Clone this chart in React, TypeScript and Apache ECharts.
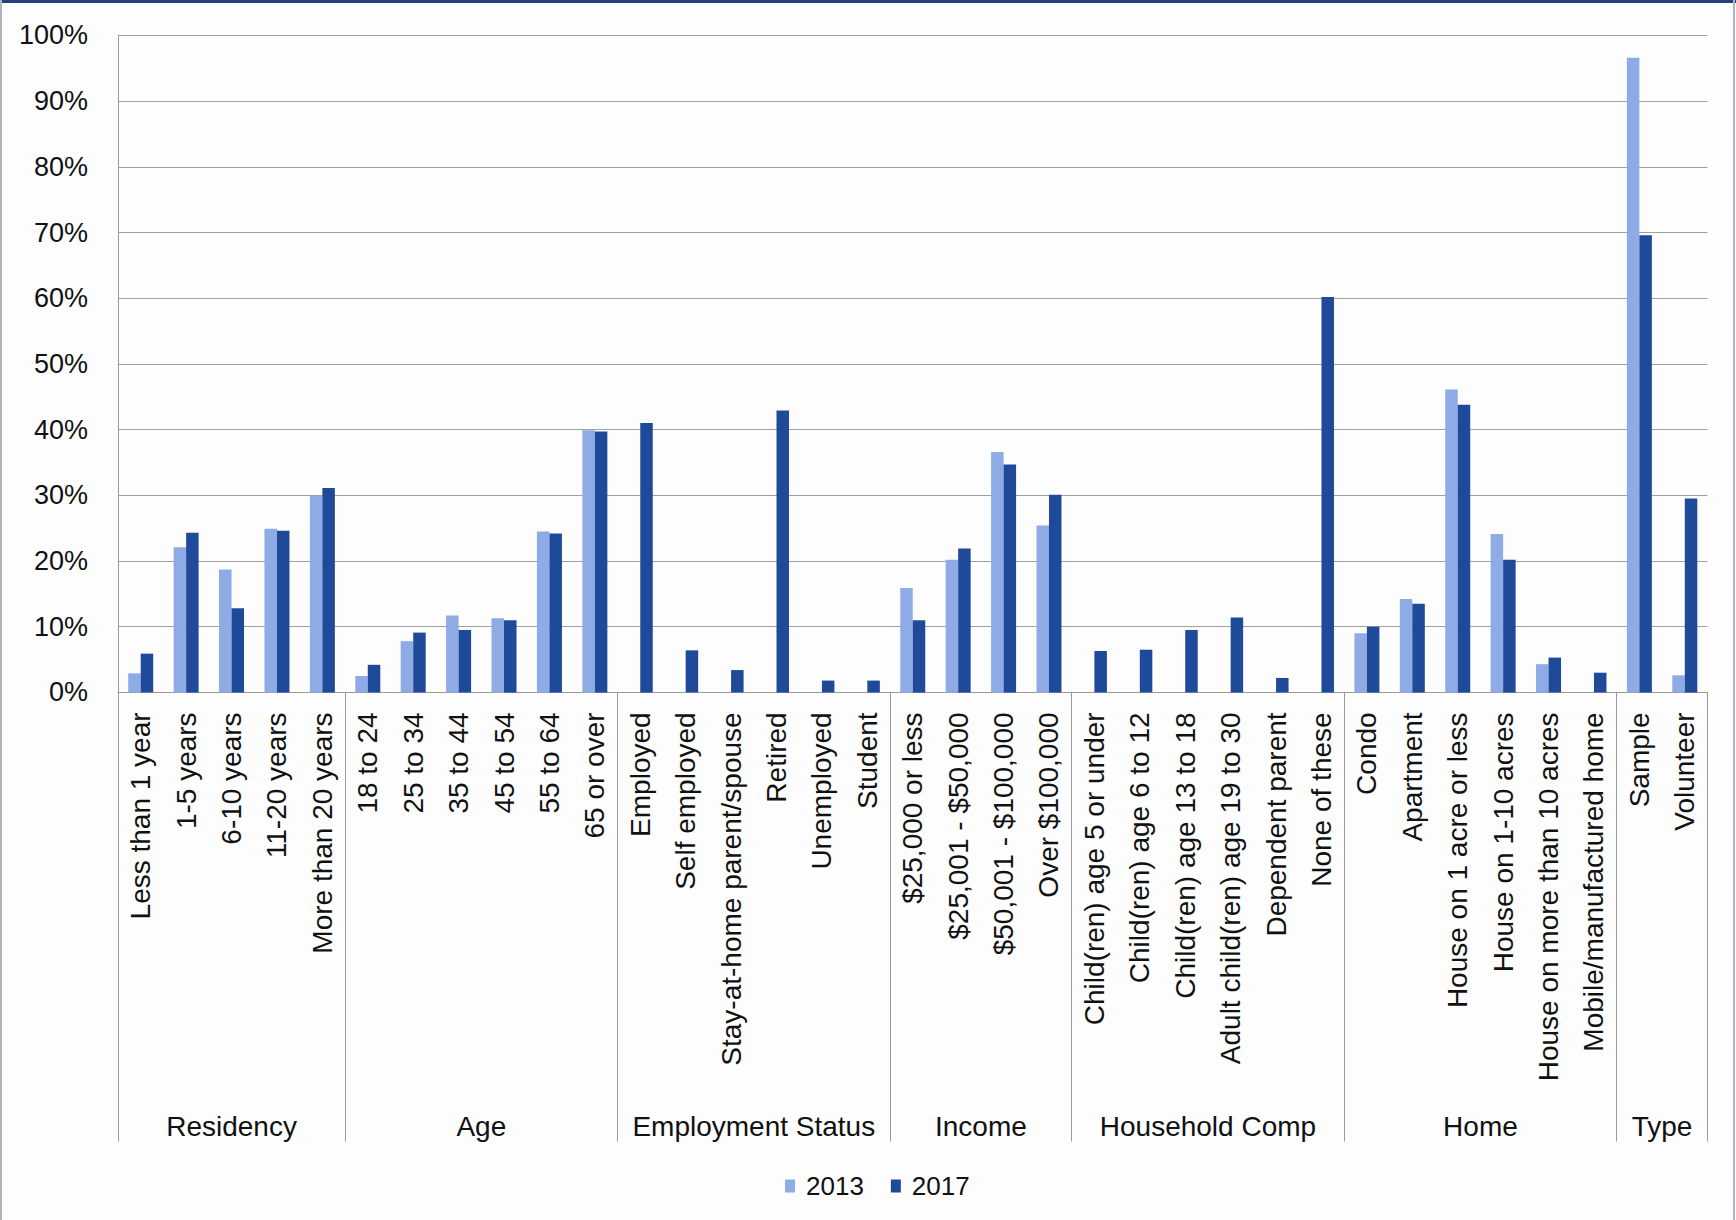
import React, { useEffect, useRef } from "react";
import * as echarts from "echarts";

const categories = [
  "Less than 1 year", "1-5 years", "6-10 years", "11-20 years", "More than 20 years",
  "18 to 24", "25 to 34", "35 to 44", "45 to 54", "55 to 64", "65 or over",
  "Employed", "Self employed", "Stay-at-home parent/spouse", "Retired", "Unemployed", "Student",
  "$25,000 or less", "$25,001 - $50,000", "$50,001 - $100,000", "Over $100,000",
  "Child(ren) age 5 or under", "Child(ren) age 6 to 12", "Child(ren) age 13 to 18",
  "Adult child(ren) age 19 to 30", "Dependent parent", "None of these",
  "Condo", "Apartment", "House on 1 acre or less", "House on 1-10 acres",
  "House on more than 10 acres", "Mobile/manufactured home",
  "Sample", "Volunteer",
];

const groupNames = ["Residency", "Age", "Employment Status", "Income", "Household Comp", "Home", "Type"];
const groupSizes = [5, 6, 6, 4, 6, 6, 2];

const values2013 = [
  2.9, 22.1, 18.7, 24.9, 29.9,
  2.5, 7.8, 11.7, 11.3, 24.5, 39.9,
  null, null, null, null, null, null,
  15.9, 20.2, 36.6, 25.4,
  null, null, null, null, null, null,
  9.0, 14.2, 46.1, 24.1, 4.3, null,
  96.6, 2.6,
];

const values2017 = [
  5.9, 24.3, 12.8, 24.6, 31.1,
  4.2, 9.1, 9.5, 11.0, 24.2, 39.7,
  41.0, 6.4, 3.4, 42.9, 1.8, 1.8,
  11.0, 21.9, 34.7, 30.1,
  6.3, 6.5, 9.5, 11.4, 2.2, 60.2,
  10.0, 13.5, 43.8, 20.2, 5.3, 3.0,
  69.6, 29.5,
];

const seriesNames = ["2013", "2017"];

export default function App() {
  const ref = useRef<HTMLDivElement>(null);

  useEffect(() => {
    document.body.style.margin = "0";
    if (!ref.current) return;
    const chart = echarts.init(ref.current, null, { renderer: "svg" });

    // group boundaries (start indices) and centres (in half-category units)
    const starts: number[] = [];
    const centreMap: Record<number, string> = {};
    let acc = 0;
    groupSizes.forEach((s, i) => {
      starts.push(acc);
      centreMap[acc * 2 + s] = groupNames[i];
      acc += s;
    });
    const total = acc;

    const font = "Arial, 'Liberation Sans', Helvetica, sans-serif";
    const gray = "#9a9a9a";

    chart.setOption({
      animation: false,
      backgroundColor: "#fdfdfe",
      textStyle: { fontFamily: font },
      grid: {
        left: 118,
        right: 28.5,
        top: 35.4,
        bottom: 527.6,
        outerBoundsMode: "none",
      },
      legend: {
        data: seriesNames,
        left: 780,
        top: 1168,
        icon: "rect",
        itemWidth: 10,
        itemHeight: 13,
        itemGap: 27,
        textStyle: { fontSize: 26, color: "#111", fontFamily: font, padding: [0, 0, 0, 6] },
      },
      xAxis: [
        {
          type: "category",
          data: categories,
          axisLine: { show: true, lineStyle: { color: gray, width: 1 } },
          axisTick: {
            show: true,
            interval: (index: number) => starts.indexOf(index) >= 0,
            length: 449,
            lineStyle: { color: gray, width: 1 },
          },
          axisLabel: {
            interval: 0,
            rotate: 90,
            margin: 20,
            fontSize: 28,
            color: "#111",
            fontFamily: font,
          },
          splitLine: { show: false },
        },
        {
          type: "value",
          position: "bottom",
          offset: 412,
          min: 0,
          max: total * 2,
          interval: 1,
          axisLine: { show: false },
          axisTick: { show: false },
          splitLine: { show: false },
          axisLabel: {
            show: true,
            margin: 8,
            fontSize: 28,
            color: "#111",
            fontFamily: font,
            showMinLabel: true,
            showMaxLabel: true,
            formatter: (v: number) => centreMap[Math.round(v)] ?? "",
          },
        },
      ],
      yAxis: {
        type: "value",
        min: 0,
        max: 100,
        interval: 10,
        axisLine: { show: true, lineStyle: { color: gray, width: 1 } },
        axisTick: { show: false },
        axisLabel: {
          formatter: "{value}%",
          fontSize: 27,
          margin: 30,
          color: "#111",
          fontFamily: font,
        },
        splitLine: { show: true, lineStyle: { color: "#a0a0a0", width: 1 } },
      },
      series: [
        {
          name: seriesNames[0],
          type: "bar",
          xAxisIndex: 0,
          data: values2013,
          barWidth: 12.5,
          barGap: "0%",
          itemStyle: { color: "#8eabe6" },
        },
        {
          name: seriesNames[1],
          type: "bar",
          xAxisIndex: 0,
          data: values2017,
          barWidth: 12.5,
          barGap: "0%",
          itemStyle: { color: "#1f4a9a" },
        },
      ],
      graphic: [
        { type: "rect", shape: { x: 0, y: 0, width: 1736, height: 3 }, style: { fill: "#27407f" }, silent: true },
        { type: "rect", shape: { x: 0, y: 0, width: 2, height: 1220 }, style: { fill: "#b0b4bf" }, silent: true },
        { type: "rect", shape: { x: 1733, y: 0, width: 2, height: 1220 }, style: { fill: "#b0b4bf" }, silent: true },
      ],
    });

    return () => chart.dispose();
  }, []);

  return <div ref={ref} style={{ width: 1736, height: 1220 }} />;
}
